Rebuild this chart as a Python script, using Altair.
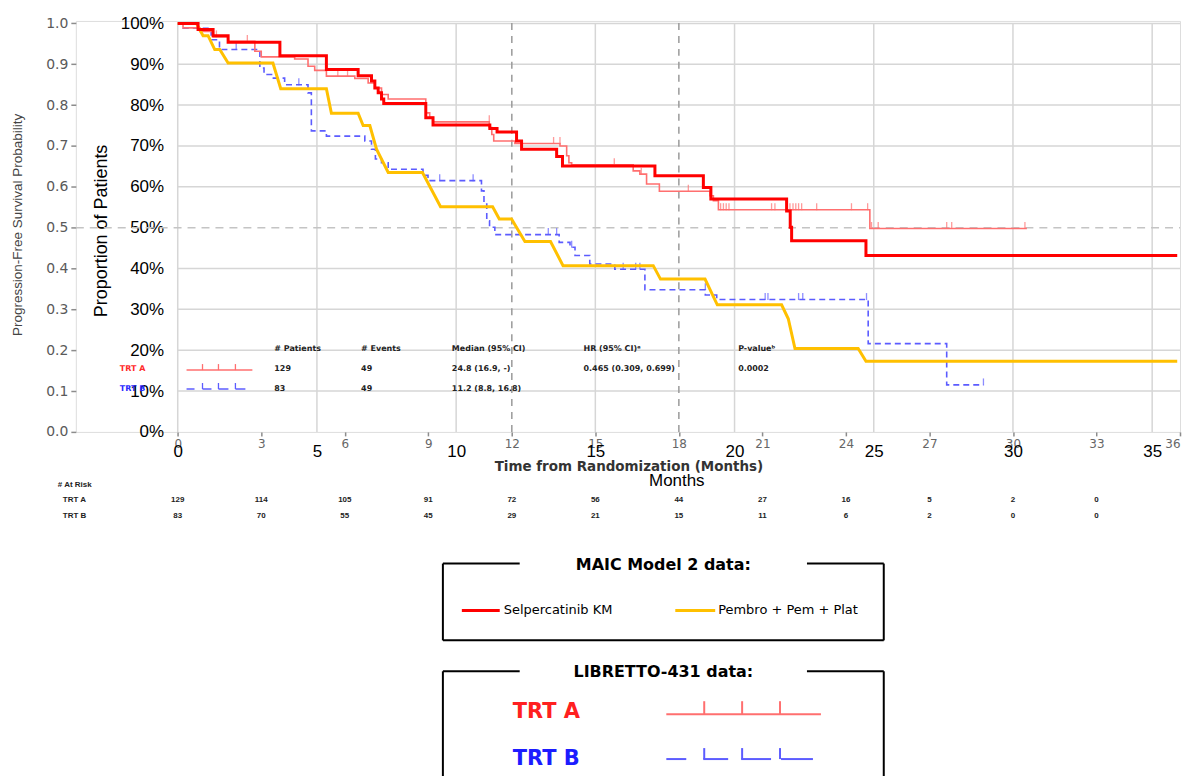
import altair as alt
import pandas as pd

# ---------------- data ----------------
# MAIC Model 2: Selpercatinib KM (step function)
sel_t = [0, 0.73, 1.27, 1.81, 3.67, 5.34, 6.48, 6.96, 7.08, 7.2, 7.32, 7.4, 8.91, 9.17, 11.21, 11.47,
         12.17, 12.35, 13.61, 13.82, 17.14, 18.88, 19.15, 21.87, 22.0, 22.05, 24.72, 35.9]
sel_s = [1.0, 0.985, 0.970, 0.954, 0.921, 0.887, 0.872, 0.859, 0.842, 0.830, 0.815, 0.804, 0.769, 0.751,
         0.743, 0.734, 0.712, 0.692, 0.674, 0.651, 0.627, 0.598, 0.570, 0.541, 0.501, 0.468, 0.432, 0.432]

# MAIC Model 2: Pembro + Pem + Plat (drawn with sloped segments)
pem_t = [0, 0.67, 0.91, 1.09, 1.33, 1.51, 1.81, 3.42, 3.70, 5.34, 5.52, 6.48, 6.66, 6.90, 7.14, 7.56,
         8.79, 9.44, 11.31, 11.55, 11.99, 12.47, 13.39, 13.84, 17.08, 17.34, 18.94, 19.38, 21.69,
         21.93, 22.17, 24.44, 24.72, 35.9]
pem_s = [1.0, 1.0, 0.970, 0.970, 0.936, 0.936, 0.903, 0.903, 0.840, 0.840, 0.780, 0.780, 0.750, 0.750,
         0.692, 0.635, 0.635, 0.551, 0.551, 0.521, 0.521, 0.466, 0.466, 0.407, 0.407, 0.374, 0.374,
         0.311, 0.311, 0.277, 0.204, 0.204, 0.173, 0.173]

# LIBRETTO-431 TRT A (step function)
trta_t = [0, 0.19, 0.79, 1.27, 1.81, 2.77, 3.0, 4.2, 4.68, 4.92, 5.34, 6.36, 6.84, 7.08, 7.32, 7.56,
          8.91, 9.05, 9.17, 11.19, 11.28, 11.35, 12.11, 13.73, 13.97, 14.05, 14.15, 16.36, 16.6,
          16.84, 17.3, 19.12, 19.24, 19.42, 24.86, 30.5]
trta_s = [1.0, 0.989, 0.980, 0.967, 0.956, 0.932, 0.918, 0.913, 0.895, 0.885, 0.871, 0.865, 0.854,
          0.842, 0.826, 0.815, 0.781, 0.770, 0.759, 0.745, 0.728, 0.712, 0.706, 0.700, 0.676, 0.659,
          0.654, 0.639, 0.631, 0.607, 0.589, 0.578, 0.566, 0.544, 0.498, 0.498]
trta_cens_t = [1.39, 2.5, 5.75, 6.1, 11.19, 13.5, 13.73, 15.68, 16.65, 18.34, 19.5, 19.6, 19.7, 19.8,
               21.33, 21.45, 21.99, 22.1, 22.2, 22.3, 22.41, 22.95, 24.2, 24.78, 24.92, 25.16, 27.62,
               27.8, 30.43]
trta_cens_s = [0.967, 0.956, 0.871, 0.871, 0.759, 0.706, 0.706, 0.654, 0.631, 0.589, 0.544, 0.544,
               0.544, 0.544, 0.544, 0.544, 0.544, 0.544, 0.544, 0.544, 0.544, 0.544, 0.544, 0.544,
               0.498, 0.498, 0.498, 0.498, 0.498]

# LIBRETTO-431 TRT B (step function)
trtb_t = [0, 0.2, 1.2, 1.5, 2.95, 3.1, 3.37, 3.84, 4.68, 4.8, 5.34, 6.72, 6.96, 7.1, 7.32, 7.56, 8.81,
          8.99, 10.91, 11.0, 11.1, 11.2, 11.39, 13.7, 14.09, 14.27, 14.8, 15.7, 16.78, 18.95, 19.36,
          24.8, 27.62, 28.94]
trtb_s = [1.0, 0.988, 0.960, 0.936, 0.891, 0.875, 0.866, 0.850, 0.830, 0.737, 0.724, 0.712, 0.692,
          0.668, 0.659, 0.643, 0.628, 0.615, 0.590, 0.558, 0.517, 0.501, 0.483, 0.464, 0.452, 0.432,
          0.411, 0.398, 0.348, 0.335, 0.324, 0.216, 0.115, 0.115]
trtb_cens_t = [2.1, 4.35, 9.41, 10.61, 13.31, 13.61, 14.15, 16.0, 16.45, 16.6, 18.95, 21.1, 21.2,
               22.3, 22.45, 24.74, 28.94]
trtb_cens_s = [0.936, 0.850, 0.615, 0.615, 0.483, 0.483, 0.452, 0.398, 0.398, 0.398, 0.348, 0.324,
               0.324, 0.324, 0.324, 0.324, 0.115]

# axes / ticks
km_ticks = [0, 3, 6, 9, 12, 15, 18, 21, 24, 27, 30, 33, 36]
maic_ticks = [0, 5, 10, 15, 20, 25, 30, 35]
prob_ticks = [0.0, 0.1, 0.2, 0.3, 0.4, 0.5, 0.6, 0.7, 0.8, 0.9, 1.0]
grid_y = [0.1, 0.2, 0.3, 0.4, 0.6, 0.7, 0.8, 0.9, 1.0]
ref_months = [12, 18]

# numbers at risk
risk_months = [0, 3, 6, 9, 12, 15, 18, 21, 24, 27, 30, 33]
risk_a = [129, 114, 105, 91, 72, 56, 44, 27, 16, 5, 2, 0]
risk_b = [83, 70, 55, 45, 29, 21, 15, 11, 6, 2, 0, 0]

# KM summary table
summary_header = ["# Patients", "# Events", "Median (95% CI)", "HR (95% CI)ᵃ", "P-valueᵇ"]
summary_a = ["129", "49", "24.8 (16.9, -)", "0.465 (0.309, 0.699)", "0.0002"]
summary_b = ["83", "49", "11.2 (8.8, 16.8)", "", ""]

# ---------------- layout ----------------
W, H = 1107, 412
X_DOM = [-3.66, 36.0]
Y_DOM = [0.0, 1.006]
xs = alt.Scale(domain=X_DOM, nice=False, zero=False)
ys = alt.Scale(domain=Y_DOM, nice=False, zero=False)
FONT = "Liberation Sans"
WIDE = "DejaVu Sans"
RED, YEL = "#ff0000", "#ffc000"
PINK, BLUE = "#ff6f6f", "#5c5cff"

one = pd.DataFrame({"k": [0]})


def hrule(x1, x2, y, color="black", width=2, dash=None):
    kw = dict(color=color, strokeWidth=width)
    if dash:
        kw["strokeDash"] = dash
    return alt.Chart(one).mark_rule(**kw).encode(x=alt.value(x1), x2=alt.value(x2), y=alt.value(y))


def vrule(x, y1, y2, color="black", width=2, dash=None):
    kw = dict(color=color, strokeWidth=width)
    if dash:
        kw["strokeDash"] = dash
    return alt.Chart(one).mark_rule(**kw).encode(x=alt.value(x), y=alt.value(y1), y2=alt.value(y2))


def label(txt, x, y, size, color="black", weight="normal", font=FONT, align="left"):
    return alt.Chart(one).mark_text(text=txt, fontSize=size, color=color, fontWeight=weight, font=font,
                                    align=align, baseline="middle").encode(
        x=alt.value(x), y=alt.value(y))


layers = []

# gridlines
gh = pd.DataFrame({"y": grid_y, "x0": 0.0, "x1": X_DOM[1]})
layers.append(alt.Chart(gh).mark_rule(color="#d6d6d6", strokeWidth=1.5).encode(
    y=alt.Y("y:Q", scale=ys, axis=None), x=alt.X("x0:Q", scale=xs, axis=None), x2="x1:Q"))
gv = pd.DataFrame({"x": maic_ticks, "y0": 0.0, "y1": 1.0})
layers.append(alt.Chart(gv).mark_rule(color="#d6d6d6", strokeWidth=1.5).encode(
    x=alt.X("x:Q", scale=xs, axis=None), y=alt.Y("y0:Q", scale=ys, axis=None), y2="y1:Q"))
# median reference line and 12/18-month dashed lines
med = pd.DataFrame({"y": [0.5], "x0": X_DOM[0], "x1": X_DOM[1]})
layers.append(alt.Chart(med).mark_rule(color="#c4c4c4", strokeWidth=1.5, strokeDash=[8, 6]).encode(
    y=alt.Y("y:Q", scale=ys, axis=None), x=alt.X("x0:Q", scale=xs, axis=None), x2="x1:Q"))
rv = pd.DataFrame({"x": ref_months, "y0": 0.0, "y1": Y_DOM[1]})
layers.append(alt.Chart(rv).mark_rule(color="#9a9a9a", strokeWidth=1.5, strokeDash=[7, 6]).encode(
    x=alt.X("x:Q", scale=xs, axis=None), y=alt.Y("y0:Q", scale=ys, axis=None), y2="y1:Q"))

# outer (KM figure) axes
ax = pd.DataFrame({"x": [0.0], "y": [0.0]})
layers.append(alt.Chart(ax).mark_point(opacity=0).encode(
    x=alt.X("x:Q", scale=xs, axis=alt.Axis(
        values=km_ticks, orient="bottom", grid=False, domain=False, tickColor="#8c8c8c", tickSize=4,
        tickWidth=1.5, labelColor="#666666", labelFont=WIDE, labelFontSize=12, labelPadding=3,
        labelFlush=True, labelOverlap=False, title="Time from Randomization (Months)",
        titleFont=WIDE, titleFontSize=13.5, titleFontWeight="bold", titleColor="#333333",
        titleX=554, titleY=35, titleBaseline="middle")),
    y=alt.Y("y:Q", scale=ys, axis=alt.Axis(
        values=prob_ticks, format=".1f", orient="left", grid=False, domain=False, tickColor="#8c8c8c",
        tickSize=5, tickWidth=1.5, labelColor="#5a5a5a", labelFont=WIDE, labelFontSize=14,
        labelPadding=3, labelOverlap=False, title="Progression-Free Survival Probability",
        titleFontSize=13.5, titleFontWeight="normal", titleColor="#444444", titleX=-58, titleY=204,
        titleAngle=270, titleAlign="center", titleBaseline="middle"))))

# inner (MAIC) axes
layers.append(alt.Chart(ax).mark_point(opacity=0).encode(
    x=alt.X("x:Q", scale=xs, axis=alt.Axis(
        values=maic_ticks, orient="bottom", grid=False, domain=False, ticks=False, tickSize=0,
        labelFontSize=17, labelColor="black", labelPadding=12, labelFlush=False, labelOverlap=False,
        title="Months", titleFontSize=17, titleFontWeight="normal", titleColor="black", titleX=602,
        titleY=49, titleBaseline="middle")),
    y=alt.Y("y:Q", scale=ys, axis=alt.Axis(
        values=prob_ticks, format=".0%", orient="left", offset=-102, grid=False, domain=False,
        ticks=False, tickSize=0, labelFontSize=17, labelColor="black", labelPadding=14,
        labelOverlap=False, title="Proportion of Patients", titleFontSize=18, titleFontWeight="normal",
        titleColor="black", titleX=-76, titleY=210, titleAngle=270, titleAlign="center",
        titleBaseline="middle"))))

# KM curves (LIBRETTO-431)
da = pd.DataFrame({"t": trta_t, "s": trta_s})
db = pd.DataFrame({"t": trtb_t, "s": trtb_s})
layers.append(alt.Chart(db).mark_line(interpolate="step-after", color=BLUE, strokeWidth=1.6,
                                      strokeDash=[6, 4]).encode(
    x=alt.X("t:Q", scale=xs, axis=None), y=alt.Y("s:Q", scale=ys, axis=None)))
layers.append(alt.Chart(da).mark_line(interpolate="step-after", color=PINK, strokeWidth=1.6).encode(
    x=alt.X("t:Q", scale=xs, axis=None), y=alt.Y("s:Q", scale=ys, axis=None)))
ca = pd.DataFrame({"t": trta_cens_t, "s": trta_cens_s})
cb = pd.DataFrame({"t": trtb_cens_t, "s": trtb_cens_s})
layers.append(alt.Chart(cb).mark_tick(orient="vertical", color=BLUE, size=7, thickness=1.3,
                                      yOffset=-3).encode(
    x=alt.X("t:Q", scale=xs, axis=None), y=alt.Y("s:Q", scale=ys, axis=None)))
layers.append(alt.Chart(ca).mark_tick(orient="vertical", color=PINK, size=7, thickness=1.3,
                                      yOffset=-3).encode(
    x=alt.X("t:Q", scale=xs, axis=None), y=alt.Y("s:Q", scale=ys, axis=None)))

# MAIC curves
dp = pd.DataFrame({"t": pem_t, "s": pem_s})
ds = pd.DataFrame({"t": sel_t, "s": sel_s})
layers.append(alt.Chart(dp).mark_line(color=YEL, strokeWidth=3).encode(
    x=alt.X("t:Q", scale=xs, axis=None), y=alt.Y("s:Q", scale=ys, axis=None)))
layers.append(alt.Chart(ds).mark_line(interpolate="step-after", color=RED, strokeWidth=3).encode(
    x=alt.X("t:Q", scale=xs, axis=None), y=alt.Y("s:Q", scale=ys, axis=None)))

# KM summary table inside plot (pixel layout relative to plot origin)
col_x = [199, 286, 377, 509, 664]
for txt, cx in zip(summary_header, col_x):
    layers.append(label(txt, cx, 329, 8, color="#222222", weight="bold", font=WIDE))
for txt, cx in zip(summary_a, col_x):
    if txt:
        layers.append(label(txt, cx, 349, 8, color="#222222", weight="bold", font=WIDE))
for txt, cx in zip(summary_b, col_x):
    if txt:
        layers.append(label(txt, cx, 369, 8, color="#222222", weight="bold", font=WIDE))
layers.append(label("TRT A", 44, 349, 8, color="#ff2a2a", weight="bold", font=WIDE))
layers.append(label("TRT B", 44, 369, 8, color="#2a2aff", weight="bold", font=WIDE))
layers.append(hrule(111, 177, 350, color=PINK, width=1.5))
for tx in [127, 143, 160]:
    layers.append(vrule(tx, 344, 350, color=PINK, width=1.3))
for x1, x2 in [(111, 119), (127, 136), (143, 153), (160, 170)]:
    layers.append(hrule(x1, x2, 369, color=BLUE, width=1.5))
for tx in [127, 143, 160]:
    layers.append(vrule(tx, 363, 369, color=BLUE, width=1.3))

# numbers at risk
dr = pd.DataFrame({"m": risk_months, "a": risk_a, "b": risk_b})
layers.append(label("# At Risk", -18, 465, 8, color="#222222", weight="bold"))
layers.append(label("TRT A", -13, 480, 8, color="#222222", weight="bold"))
layers.append(label("TRT B", -13, 496, 8, color="#222222", weight="bold"))
layers.append(alt.Chart(dr).mark_text(fontSize=8, fontWeight="bold", color="#222222",
                                      baseline="middle").encode(
    x=alt.X("m:Q", scale=xs, axis=None), y=alt.value(480), text="a:Q"))
layers.append(alt.Chart(dr).mark_text(fontSize=8, fontWeight="bold", color="#222222",
                                      baseline="middle").encode(
    x=alt.X("m:Q", scale=xs, axis=None), y=alt.value(496), text="b:Q"))

# legend box 1: MAIC Model 2 data
BL, BR = 368, 810
layers += [hrule(BL, 445, 544), hrule(733, BR, 544), hrule(BL, BR, 621),
           vrule(BL, 544, 621), vrule(BR, 544, 621)]
layers.append(label("MAIC Model 2 data:", 589, 545, 16, weight="bold", font=WIDE, align="center"))
layers.append(hrule(387, 425, 591, color=RED, width=3))
layers.append(label("Selpercatinib KM", 429, 591, 13, font=WIDE))
layers.append(hrule(601, 641, 591, color=YEL, width=3))
layers.append(label("Pembro + Pem + Plat", 644, 591, 13, font=WIDE))

# legend box 2: LIBRETTO-431 data
layers += [hrule(BL, 445, 652), hrule(733, BR, 652), vrule(BL, 652, 760), vrule(BR, 652, 760)]
layers.append(label("LIBRETTO-431 data:", 589, 653, 16, weight="bold", font=WIDE, align="center"))
layers.append(label("TRT A", 438, 693, 21, color="#ff2020", weight="bold", font=WIDE))
layers.append(hrule(592, 747, 695, color=PINK, width=2))
for tx in [630, 668, 706]:
    layers.append(vrule(tx, 682, 695, color=PINK, width=2))
layers.append(label("TRT B", 438, 740, 21, color="#1c1cff", weight="bold", font=WIDE))
for x1, x2 in [(592, 612), (629, 654), (667, 697), (707, 739)]:
    layers.append(hrule(x1, x2, 740, color=BLUE, width=2))
for tx in [630, 668, 706]:
    layers.append(vrule(tx, 729, 740, color=BLUE, width=2))

chart = alt.layer(*layers).resolve_axis(x="independent", y="independent").properties(
    width=W, height=H,
    padding={"left": 68, "top": 12, "right": 2, "bottom": 344},
    autosize=alt.AutoSizeParams(type="none"),
).configure_view(stroke="#8c8c8c", strokeWidth=2).configure(font=FONT)

chart.save("out.html", embed_options={"renderer": "svg", "actions": False})
